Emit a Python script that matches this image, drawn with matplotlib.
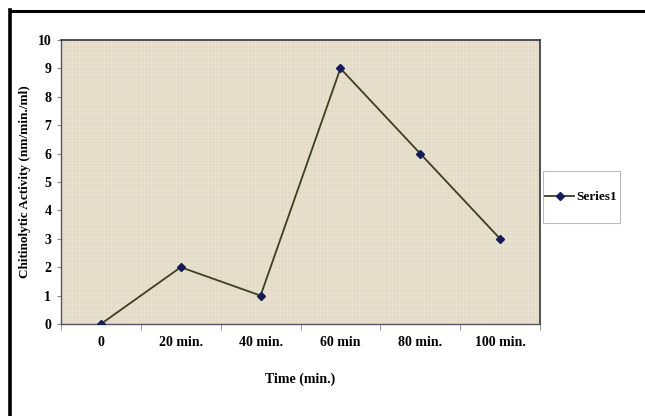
import numpy as np
import matplotlib.pyplot as plt
from matplotlib.lines import Line2D
from matplotlib.patches import Rectangle

# data
time_labels = ['0', '20 min.', '40 min.', '60 min', '80 min.', '100 min.']
activity = [0, 2, 1, 9, 6, 3]

plt.rcParams['font.family'] = ['Liberation Serif', 'DejaVu Serif']
plt.rcParams['font.weight'] = 'bold'

fig = plt.figure(figsize=(6.45, 4.16), dpi=100)

# outer frame (top and left only visible)
fig.add_artist(Line2D([9.5 / 645, 1.0], [1 - 10.5 / 416] * 2, color='black', lw=2.2))
fig.add_artist(Line2D([10 / 645] * 2, [0.0, 1 - 10 / 416], color='black', lw=2.6))

ax = fig.add_axes([61 / 645, 92 / 416, 479 / 645, 284 / 416])
ax.set_facecolor('#e3dac6')

# linen-like texture
for v in np.arange(0, 6, 0.045):
    ax.axvline(v, color='#f2ecdf', lw=0.5, alpha=0.5, zorder=0)
for h in np.arange(0, 10, 0.09):
    ax.axhline(h, color='#f2ecdf', lw=0.5, alpha=0.5, zorder=0)

x = np.arange(len(activity)) + 0.5
ax.plot(x, activity, color='#3b3f1f', lw=1.3, marker='D', ms=4.5,
        mfc='#141a5a', mec='#141a5a', label='Series1', zorder=3)

ax.set_xlim(0, 6)
ax.set_ylim(0, 10)
ax.set_yticks(range(0, 11))
ax.set_xticks(x)
ax.set_xticklabels(time_labels)
ax.set_xticks(range(0, 7), minor=True)
ax.tick_params(axis='x', which='major', length=0, pad=9, labelsize=10)
ax.tick_params(axis='x', which='minor', length=4, color='#888888')
ax.tick_params(axis='y', length=3, color='#888888', labelsize=10, pad=4)

for s in ['top', 'right']:
    ax.spines[s].set_color('#333340')
    ax.spines[s].set_linewidth(1.2)
for s in ['left', 'bottom']:
    ax.spines[s].set_color('#555566')
    ax.spines[s].set_linewidth(1.0)

ax.set_xlabel('Time (min.)', fontsize=10, fontweight='bold')
ax.set_ylabel('Chitinolytic Activity (nm/min./ml)', fontsize=9.5, fontweight='bold')
ax.xaxis.set_label_coords(0.5, -49 / 284)
ax.yaxis.set_label_coords(-30 / 479, 0.5)

# legend box drawn as a figure patch for exact padding
fig.add_artist(Rectangle((543 / 645, 1 - 223 / 416), 77 / 645, 52 / 416,
                         transform=fig.transFigure, fill=False,
                         edgecolor='#bbbbbb', lw=0.8))
leg = fig.legend(loc='center left', bbox_to_anchor=(545 / 645, 1 - 197 / 416),
                 fontsize=9.5, frameon=False, handlelength=2.2,
                 borderpad=0, borderaxespad=0, handletextpad=0.2)

fig.savefig('out.png', dpi=100)
